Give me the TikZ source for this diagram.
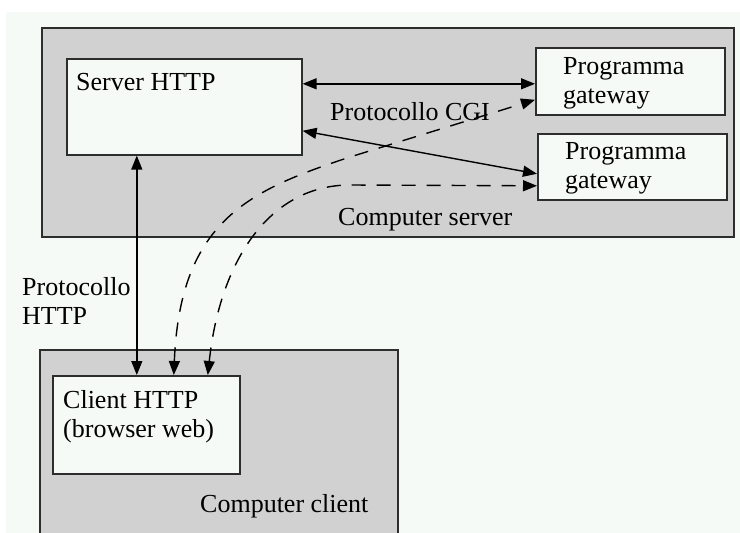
\documentclass[tikz,border=0pt]{standalone}
\usepackage{fontspec}
\setmainfont{Liberation Serif}
\usetikzlibrary{arrows.meta, positioning}
\definecolor{paper}{RGB}{246,250,247}
\definecolor{panel}{RGB}{209,209,209}
\definecolor{edge}{RGB}{45,45,45}

\begin{document}
\begin{tikzpicture}[x=1pt, y=-1pt,
    machine/.style={draw=edge, fill=panel, line width=1.6pt, anchor=north west, inner sep=0pt},
    prog/.style={draw=edge, fill=paper, line width=1.6pt, anchor=north west, inner sep=0pt},
    lbl/.style={font=\fontsize{26}{29}\selectfont, inner sep=0pt, align=left},
    link/.style={line width=1.4pt, {Triangle[length=14pt,width=11pt]}-{Triangle[length=14pt,width=11pt]}},
    cgi/.style={link, dash pattern=on 14pt off 11pt}]
    \useasboundingbox (0,0) rectangle (740,533);
    \fill[white] (0,0) rectangle (740,533);
    \fill[paper] (6,12) rectangle (740,533);

    % machines
    \node[machine, minimum width=692, minimum height=209] (server) at (41,27) {};
    \node[machine, minimum width=358, minimum height=200] (client) at (39,349) {};

    % programs
    \node[prog, minimum width=235, minimum height=96] (srv) at (66,58) {};
    \node[prog, minimum width=189, minimum height=67] (gw1) at (535,47) {};
    \node[prog, minimum width=189, minimum height=66] (gw2) at (537,133) {};
    \node[prog, minimum width=187, minimum height=98] (cli) at (52,375) {};

    % labels
    \node[lbl, anchor=base west] (srvtxt) at (76,90) {Server HTTP};
    \node[lbl, anchor=north west] (gw1txt) at (563,57) {Programma\\gateway};
    \node[lbl, anchor=north west] (gw2txt) at (565,142) {Programma\\gateway};
    \node[lbl, anchor=base west] (cgitxt) at (330,120) {Protocollo CGI};
    \node[lbl, anchor=base west] (srvname) at (338,225) {Computer server};
    \node[lbl, anchor=north west] (httptxt) at (22,277) {Protocollo\\HTTP};
    \node[lbl, anchor=north west] (clitxt) at (63,390) {Client HTTP\\(browser web)};
    \node[lbl, anchor=base west] (cliname) at (200,512) {Computer client};

    % connectors
    \draw[link] ([xshift=-47.5pt]srv.south) -- ([xshift=-47.5pt]srv.south |- cli.north);
    \draw[link] ([yshift=23pt]srv.east) -- ([yshift=23pt]srv.east -| gw1.west);
    \draw[link] ([yshift=-24pt]srv.east) -- ([yshift=-7pt]gw2.west);
    \draw[cgi] ([xshift=27.5pt]cli.north) .. controls (180,220) and (250,190) .. (350,157) -- ([yshift=-18.5pt]gw1.west);
    \draw[cgi] ([xshift=61.5pt]cli.north) .. controls (220,260) and (270,185) .. (350,185) -- ([yshift=-19pt]gw2.west);
\end{tikzpicture}
\end{document}
